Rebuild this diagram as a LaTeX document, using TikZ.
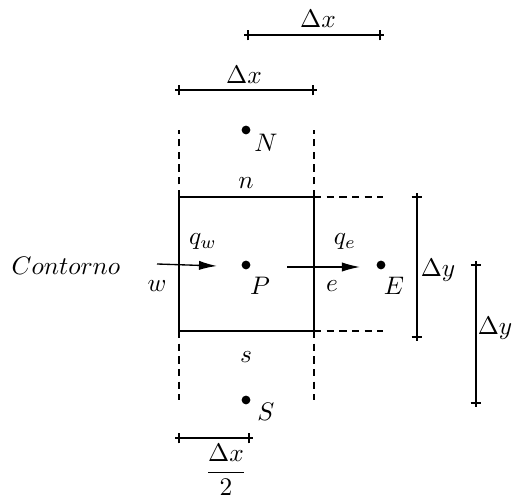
\documentclass[tikz,border=0pt]{standalone}
\usetikzlibrary{arrows.meta}
\begin{document}
\begin{tikzpicture}[x=0.41pt,y=-0.41pt,
  ln/.style={line width=0.55pt},
  dsh/.style={line width=0.55pt,dash pattern=on 3pt off 2.2pt},
  dot/.style={circle,fill=black,inner sep=0pt,minimum size=3.6pt},
  lbl/.style={inner sep=0pt,scale=1.04},
  flow/.style={line width=0.55pt,-{Latex[length=7.4pt,width=3.8pt]}},
  dim/.style={line width=0.55pt}]
\useasboundingbox (0,0) rectangle (518,501);
% points
\node[dot] (N) at (246,130) {};
\node[dot] (P) at (246,265) {};
\node[dot] (E) at (381,265) {};
\node[dot] (S) at (246,400) {};
\node[lbl] (Nl) at (266,143) {$N$};
\node[lbl] (Pl) at (260,286) {$P$};
\node[lbl] (El) at (394,286) {$E$};
\node[lbl] (Sl) at (266,412) {$S$};
% control volume corners
\coordinate (nw) at (179,197);
\coordinate (ne) at (314,197);
\coordinate (sw) at (179,331);
\coordinate (se) at (314,331);
\coordinate (nwt) at (179,130);
\coordinate (net) at (314,130);
\coordinate (swb) at (179,400);
\coordinate (seb) at (314,400);
\coordinate (ner) at (383,197);
\coordinate (ser) at (383,331);
\draw[ln] (nw) -- (ne) -- (se) -- (sw) -- cycle;
\draw[dsh] (nw) -- (nwt);
\draw[dsh] (ne) -- (net);
\draw[dsh] (sw) -- (swb);
\draw[dsh] (se) -- (seb);
\draw[dsh] (ne) -- (ner);
\draw[dsh] (se) -- (ser);
% face labels
\node[lbl] (n) at (246,183) {$n$};
\node[lbl] (s) at (246,357) {$s$};
\node[lbl] (w) at (157,286) {$w$};
\node[lbl] (e) at (332,286) {$e$};
% fluxes
\node[lbl] (C) at (66,266) {$Contorno$};
\coordinate (a1s) at (157,264);
\coordinate (a1e) at (217,266);
\coordinate (a2s) at (287,267);
\coordinate (a2e) at (360,267);
\draw[flow] (a1s) -- (a1e);
\draw[flow] (a2s) -- (a2e);
\node[lbl] (qw) at (203,242) {$q_w$};
\node[lbl] (qe) at (345,242) {$q_e$};
% dimensions
\coordinate (d1a) at (248,35);
\coordinate (d1b) at (380,35);
\coordinate (d2a) at (179,90);
\coordinate (d2b) at (313,90);
\coordinate (d3a) at (179,438);
\coordinate (d3b) at (249,438);
\coordinate (d4a) at (417,197);
\coordinate (d4b) at (417,337);
\coordinate (d5a) at (476,265);
\coordinate (d5b) at (476,403);
\draw[dim] (d1a) -- (d1b);
\draw[dim] (d2a) -- (d2b);
\draw[dim] (d3a) -- (d3b);
\draw[dim] (d4a) -- (d4b);
\draw[dim] (d5a) -- (d5b);
\foreach \c in {d1a,d1b,d2a,d2b,d3a,d3b}{
  \draw[dim] ([yshift=-2.2pt]\c) -- ([yshift=2.2pt]\c);
  \draw[dim] ([xshift=-1.6pt]\c) -- ([xshift=1.6pt]\c);}
\foreach \c in {d4a,d4b,d5a,d5b}{
  \draw[dim] ([xshift=-2.2pt]\c) -- ([xshift=2.2pt]\c);
  \draw[dim] ([yshift=-1.6pt]\c) -- ([yshift=1.6pt]\c);}
\node[lbl] (dx1) at (318,19) {$\Delta x$};
\node[lbl] (dx2) at (244,75) {$\Delta x$};
\node[lbl] (dx3) at (226,470) {$\displaystyle\frac{\Delta x}{2}$};
\node[lbl] (dy1) at (438,270) {$\Delta y$};
\node[lbl] (dy2) at (495,328) {$\Delta y$};
\end{tikzpicture}
\end{document}
